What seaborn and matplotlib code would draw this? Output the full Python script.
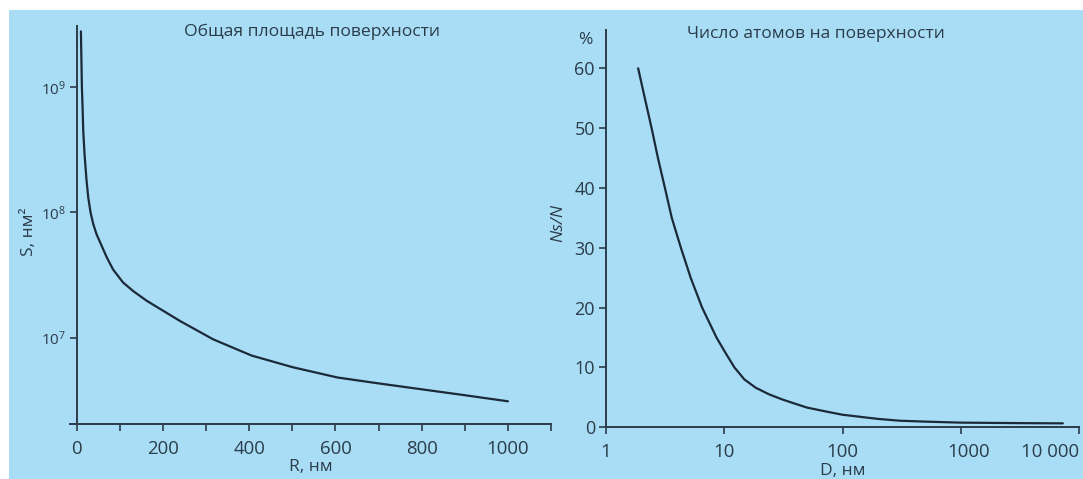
import matplotlib
matplotlib.use('Agg')
import matplotlib.pyplot as plt
import matplotlib.patches as mpatches
import matplotlib.transforms as mtransforms
import pandas as pd
import seaborn as sns

# Left panel: total surface area vs particle radius
radius_nm = [9.3, 11.6, 13.2, 14.7, 17.8, 22.4, 26.3, 31.7, 37.9, 45.6, 69, 84, 107, 131,
             162, 239, 316, 405, 501, 605, 702, 806, 902, 1000]
surface_nm2 = [2.8e9, 1.0e9, 6.9e8, 4.5e8, 2.9e8, 1.8e8, 1.32e8, 1.0e8, 8.1e7, 6.7e7, 4.4e7,
               3.5e7, 2.76e7, 2.35e7, 1.97e7, 1.36e7, 9.7e6, 7.2e6, 5.8e6, 4.8e6, 4.3e6,
               3.84e6, 3.46e6, 3.1e6]

# Right panel: share of surface atoms vs diameter
diameter_nm = [1.87, 2.13, 2.43, 2.75, 3.15, 3.6, 4.3, 5.2, 6.5, 8.6, 10.2, 12.2, 14.8, 18.5,
               24, 31.5, 50, 70, 100, 200, 305, 500, 1000, 3000, 7300]
surface_pct = [60, 55, 50, 45, 40, 35, 30, 25, 20, 15, 12.5, 10, 8, 6.6,
               5.5, 4.6, 3.3, 2.7, 2.1, 1.4, 1.1, 0.95, 0.78, 0.7, 0.66]

r_ticks = list(range(0, 1200, 100))
r_labels = ['0', '', '200', '', '400', '', '600', '', '800', '', '1000', '']
d_ticks = [1, 10, 100, 1000, 10000]
d_labels = ['1', '10', '100', '1000', '10 000']
pct_ticks = [0, 10, 20, 30, 40, 50, 60]

left_title = 'Общая площадь поверхности'
right_title = 'Число атомов на поверхности'

sns.set_theme(style='ticks')
plt.rcParams['font.family'] = ['Open Sans', 'DejaVu Sans']
plt.rcParams['mathtext.default'] = 'regular'

bg = '#a8ddf5'
ink = '#2b3c4a'
line_col = '#1b2938'

fig = plt.figure(figsize=(10.83, 4.79), dpi=100, facecolor='white')
fig.patches.append(mpatches.Rectangle((9 / 1083, 0), 1 - 9 / 1083, 1 - 10 / 479,
                                      transform=fig.transFigure, facecolor=bg,
                                      edgecolor='none', zorder=-10))

ax1 = fig.add_axes([70 / 1083, 55 / 479, 481 / 1083, 398 / 479])
ax2 = fig.add_axes([606 / 1083, 51.7 / 479, 473 / 1083, 397.3 / 479])

df_s = pd.DataFrame({'R': radius_nm, 'S': surface_nm2})
df_n = pd.DataFrame({'D': diameter_nm, 'P': surface_pct})

sns.lineplot(data=df_s, x='R', y='S', ax=ax1, color=line_col, linewidth=1.6, estimator=None)
sns.lineplot(data=df_n, x='D', y='P', ax=ax2, color=line_col, linewidth=1.6, estimator=None)

for ax in (ax1, ax2):
    ax.set_facecolor('none')
    for side in ('top', 'right'):
        ax.spines[side].set_visible(False)
    for side in ('left', 'bottom'):
        ax.spines[side].set_color(ink)
        ax.spines[side].set_linewidth(1.4)
    ax.tick_params(which='major', direction='out', length=5, width=1.2,
                   color=ink, labelcolor=ink, labelsize=13, pad=3)
    ax.tick_params(axis='x', labelsize=13.4, pad=6.5)
    ax.tick_params(which='minor', length=0)

# left panel
ax1.set_yscale('log')
ax1.set_xlim(-16, 1100)
ax1.set_ylim(10 ** 6.31, 10 ** 9.49)
ax1.spines['left'].set_position(('data', 0))
ax1.set_xticks(r_ticks)
ax1.set_xticklabels(r_labels)
ax1.set_yticks([1e7, 1e8, 1e9])
ax1.minorticks_off()
ax1.tick_params(axis='y', labelsize=11)
ax1.set_xlabel('R, нм', fontsize=12.5, color=ink, labelpad=1)
ax1.set_ylabel('S, нм²', fontsize=12.5, color=ink)
ax1.yaxis.set_label_coords(-0.068, 0.482)
ax1.text(0.503, 0.985, left_title, transform=ax1.transAxes, ha='center', va='center',
         fontsize=12.6, color=ink)

# right panel
ax2.set_xscale('log')
ax2.set_xlim(1, 10000)
ax2.set_ylim(0, 66.4)
ax2.set_xticks(d_ticks)
ax2.set_xticklabels(d_labels)
ax2.minorticks_off()
ax2.set_yticks(pct_ticks)
labels = ax2.get_xticklabels()
labels[3].set_transform(labels[3].get_transform() +
                        mtransforms.ScaledTranslation(8 / 100, 0, fig.dpi_scale_trans))
labels[4].set_horizontalalignment('right')
ax2.set_xlabel('D, нм', fontsize=12.5, color=ink, labelpad=1)
ax2.set_ylabel('Ns/N', fontsize=12.5, color=ink, style='italic')
ax2.yaxis.set_label_coords(-0.085, 0.515)
ax2.text(-0.044, 0.974, '%', transform=ax2.transAxes, ha='center', va='center',
         fontsize=12.5, color=ink)
ax2.text(0.444, 0.99, right_title, transform=ax2.transAxes, ha='center', va='center',
         fontsize=12.5, color=ink)

fig.savefig('out.png', dpi=100, facecolor=fig.get_facecolor())
